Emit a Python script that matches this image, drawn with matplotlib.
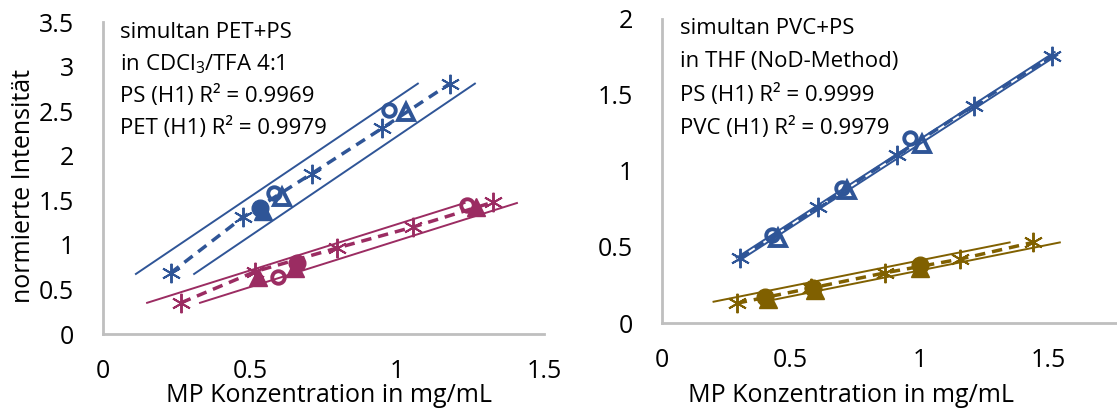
import matplotlib
matplotlib.use("Agg")
import matplotlib.pyplot as plt

plt.rcParams['font.family'] = ['Open Sans', 'DejaVu Sans']
plt.rcParams['mathtext.fontset'] = 'custom'
plt.rcParams['mathtext.rm'] = 'Open Sans'
plt.rcParams['mathtext.it'] = 'Open Sans'

BLUE = '#2F5597'
PINK = '#9B2C62'
GOLD = '#806000'
AXIS = '#BFBFBF'

# --- PET + PS in CDCl3/TFA ---
ps_star_x = [0.23, 0.476, 0.71, 0.95, 1.18]
ps_star_y = [0.685, 1.31, 1.80, 2.31, 2.81]
ps_circ_x = [0.58, 0.973]
ps_circ_y = [1.58, 2.51]
ps_tri_x = [0.61, 1.03]
ps_tri_y = [1.54, 2.49]
ps_fcirc_x = [0.535]
ps_fcirc_y = [1.41]
ps_ftri_x = [0.545]
ps_ftri_y = [1.38]
ps_up_x = [0.112, 1.071]
ps_up_y = [0.674, 2.81]
ps_lo_x = [0.310, 1.265]
ps_lo_y = [0.674, 2.81]

pet_star_x = [0.265, 0.517, 0.796, 1.054, 1.327]
pet_star_y = [0.35, 0.70, 0.965, 1.20, 1.48]
pet_circ_x = [0.595, 1.238]
pet_circ_y = [0.64, 1.45]
pet_fcirc_x = [0.66]
pet_fcirc_y = [0.80]
pet_ftri_x = [0.527, 0.652, 1.27]
pet_ftri_y = [0.64, 0.74, 1.42]
pet_up_x = [0.15, 1.23]
pet_up_y = [0.35, 1.47]
pet_lo_x = [0.33, 1.408]
pet_lo_y = [0.35, 1.47]

# --- PVC + PS in THF ---
ps2_star_x = [0.303, 0.606, 0.913, 1.21, 1.515]
ps2_star_y = [0.43, 0.76, 1.105, 1.43, 1.756]
ps2_circ_x = [0.427, 0.70, 0.963]
ps2_circ_y = [0.58, 0.89, 1.22]
ps2_tri_x = [0.45, 0.72, 1.01]
ps2_tri_y = [0.56, 0.875, 1.18]
ps2_up_x = [0.29, 1.525]
ps2_up_y = [0.43, 1.782]
ps2_lo_x = [0.30, 1.535]
ps2_lo_y = [0.41, 1.762]

pvc_star_x = [0.29, 0.58, 0.866, 1.157, 1.44]
pvc_star_y = [0.13, 0.23, 0.33, 0.42, 0.53]
pvc_fcirc_x = [0.40, 0.587, 1.0]
pvc_fcirc_y = [0.17, 0.23, 0.38]
pvc_ftri_x = [0.41, 0.595, 1.0]
pvc_ftri_y = [0.155, 0.215, 0.36]
pvc_up_x = [0.20, 1.35]
pvc_up_y = [0.14, 0.53]
pvc_lo_x = [0.395, 1.545]
pvc_lo_y = [0.14, 0.53]

STAR = (6, 2, 0)
FS = 18


def draw_group(ax, c, star, circ, tri, fcirc, ftri, up, lo):
    ax.plot(*up, color=c, lw=1.4, zorder=2)
    ax.plot(*lo, color=c, lw=1.4, zorder=2)
    ax.plot(*star, color=c, lw=2.5, ls=(0, (3, 2)), marker=STAR, ms=14,
            mew=1.4, zorder=3)
    if circ:
        ax.plot(*circ, ls='none', marker='o', ms=9, mfc='none', mec=c,
                mew=2.8, zorder=4)
    if tri:
        ax.plot(*tri, ls='none', marker='^', ms=11, mfc='none', mec=c,
                mew=2.8, zorder=4)
    if fcirc:
        ax.plot(*fcirc, ls='none', marker='o', ms=12, color=c, zorder=4)
    if ftri:
        ax.plot(*ftri, ls='none', marker='^', ms=13, color=c, zorder=4)


def style(ax, ymax, yticks, ylabels):
    for s in ('top', 'right'):
        ax.spines[s].set_visible(False)
    for s in ('left', 'bottom'):
        ax.spines[s].set_color(AXIS)
        ax.spines[s].set_linewidth(2)
    ax.set_ylim(0, ymax)
    ax.set_yticks(yticks)
    ax.set_yticklabels(ylabels)
    ax.set_xticks([0, 0.5, 1, 1.5])
    ax.set_xticklabels(['0', '0.5', '1', '1.5'])
    ax.tick_params(length=0, labelsize=FS)
    ax.tick_params(axis='y', pad=21)
    ax.tick_params(axis='x', pad=18)
    ax.set_xlabel('MP Konzentration in mg/mL', fontsize=FS)


fig = plt.figure(figsize=(11.17, 4.12), dpi=100)
ax1 = fig.add_axes([0.0922, 0.1893, 0.3948, 0.757])
ax2 = fig.add_axes([0.5927, 0.216, 0.4073, 0.738])

draw_group(ax1, BLUE, (ps_star_x, ps_star_y), (ps_circ_x, ps_circ_y),
           (ps_tri_x, ps_tri_y), (ps_fcirc_x, ps_fcirc_y),
           (ps_ftri_x, ps_ftri_y), (ps_up_x, ps_up_y), (ps_lo_x, ps_lo_y))
draw_group(ax1, PINK, (pet_star_x, pet_star_y), (pet_circ_x, pet_circ_y),
           None, (pet_fcirc_x, pet_fcirc_y), (pet_ftri_x, pet_ftri_y),
           (pet_up_x, pet_up_y), (pet_lo_x, pet_lo_y))
ax1.set_xlim(0, 1.5)
style(ax1, 3.5, [0, 0.5, 1, 1.5, 2, 2.5, 3, 3.5],
      ['0', '0.5', '1', '1.5', '2', '2.5', '3', '3.5'])
ax1.set_ylabel('normierte Intensität', fontsize=FS)
ax1.yaxis.set_label_coords(-0.152, 0.474)
ax1.xaxis.set_label_coords(0.512, -0.158)

draw_group(ax2, BLUE, (ps2_star_x, ps2_star_y), (ps2_circ_x, ps2_circ_y),
           (ps2_tri_x, ps2_tri_y), None, None,
           (ps2_up_x, ps2_up_y), (ps2_lo_x, ps2_lo_y))
draw_group(ax2, GOLD, (pvc_star_x, pvc_star_y), None, None,
           (pvc_fcirc_x, pvc_fcirc_y), (pvc_ftri_x, pvc_ftri_y),
           (pvc_up_x, pvc_up_y), (pvc_lo_x, pvc_lo_y))
ax2.set_xlim(0, 1.767)
style(ax2, 2, [0, 0.5, 1, 1.5, 2], ['0', '0.5', '1', '1.5', '2'])
ax2.xaxis.set_label_coords(0.415, -0.198)

lines1 = ['simultan PET+PS', 'in CDCl$_3$/TFA 4:1',
          'PS (H1) R² = 0.9969', 'PET (H1) R² = 0.9979']
for i, t in enumerate(lines1):
    fig.text(120 / 1117, 1 - (32 + 32 * i) / 412, t, fontsize=16,
             va='center', ha='left')

lines2 = ['simultan PVC+PS', 'in THF (NoD-Method)',
          'PS (H1) R² = 0.9999', 'PVC (H1) R² = 0.9979']
for i, t in enumerate(lines2):
    fig.text(680 / 1117, 1 - (28 + 33.3 * i) / 412, t, fontsize=16,
             va='center', ha='left')

fig.savefig('out.png', dpi=100)
